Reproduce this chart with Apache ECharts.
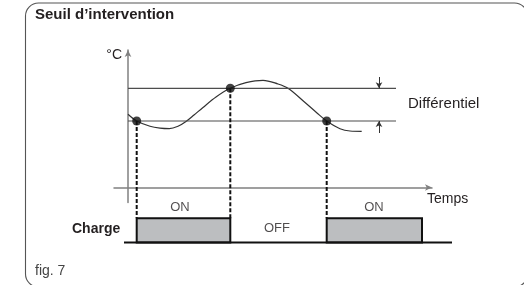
<!DOCTYPE html>
<html>
<head>
<meta charset="utf-8">
<script src="https://cdn.jsdelivr.net/npm/echarts@6/dist/echarts.min.js"></script>
<style>
html, body { margin: 0; padding: 0; background: #fff; }
#main { width: 524px; height: 285px; }
</style>
</head>
<body>
<div id="main"></div>
<script>
// temperature curve (time units, °C units)
var curveTime = [0, 0.87, 2.2, 3.2, 4.13, 5.0, 5.8, 6.6, 7.47, 8.8, 10.23, 11.8, 13.5, 15.0, 16.0, 17.53, 18.87, 19.87, 21.2, 22.2, 23.37];
var curveTemp = [7.32, 6.65, 6.12, 5.93, 5.88, 6.12, 6.6, 7.25, 7.98, 9.05, 9.92, 10.48, 10.72, 10.35, 9.92, 8.65, 7.48, 6.65, 5.88, 5.65, 5.62];
var thresholdHigh = 9.92;
var thresholdLow = 6.65;
var thresholdEnd = 26.8;
var switchTime = [0.87, 10.23, 19.87];
var switchTemp = [6.65, 9.92, 6.65];
var dropTo = -3.08;
var diffArrowTime = 25.1;
var diffArrowFrom = [11.05, 5.45];
var diffArrowTo = [9.92, 6.65];
// charge periods (on from start to end), baseline extent
var chargeOnStart = [0.87, 19.87];
var chargeOnEnd = [10.23, 29.4];
var baselineTime = [-0.4, 32.4];
var stateLabels = ['ON', 'OFF', 'ON'];
var stateLabelTime = [5.2, 14.9, 24.6];
var stateLabelLevel = [1.47, 0.6, 1.47];

var font = 'Liberation Sans, Arial, Helvetica, sans-serif';
var ink = '#231f20';

function zip(a, b) {
    var out = [];
    for (var i = 0; i < a.length; i++) out.push([a[i], b[i]]);
    return out;
}

var dropSeries = [];
for (var i = 0; i < switchTime.length; i++) {
    dropSeries.push({
        type: 'line',
        data: [[switchTime[i], switchTemp[i]], [switchTime[i], dropTo]],
        symbol: 'none',
        clip: false,
        lineStyle: { color: '#111', width: 2, type: [4, 2] },
        z: 3
    });
}

var stateData = [];
for (var i = 0; i < stateLabels.length; i++) {
    stateData.push({ value: [stateLabelTime[i], stateLabelLevel[i]], name: stateLabels[i] });
}

var myChart = echarts.init(document.getElementById('main'));
var option = {
    animation: false,
    title: {
        text: 'Seuil d\u2019intervention',
        left: 35,
        top: 7,
        padding: 0,
        textStyle: { fontFamily: font, fontSize: 15, fontWeight: 'bold', color: ink }
    },
    grid: [
        { left: 114, right: 92, top: 50, bottom: 82.5 },
        { left: 114, right: 70, top: 218.3, bottom: 42.5 }
    ],
    xAxis: [{
        gridIndex: 0,
        type: 'value',
        min: -1.4,
        max: 30.4,
        name: 'Temps',
        nameLocation: 'end',
        nameGap: -5,
        nameTextStyle: { fontFamily: font, fontSize: 14, color: ink, align: 'left', verticalAlign: 'top', padding: [5, 0, 0, 0] },
        axisLine: { onZero: true, symbol: ['none', 'arrow'], symbolSize: [5, 7], lineStyle: { color: '#808080', width: 1.5 } },
        axisTick: { show: false },
        axisLabel: { show: false },
        splitLine: { show: false }
    }, {
        gridIndex: 1,
        type: 'value',
        min: -1.4,
        max: 32.6,
        show: false
    }],
    yAxis: [{
        gridIndex: 0,
        type: 'value',
        min: -1.5,
        max: 13.75,
        name: '\u00b0C',
        nameLocation: 'end',
        nameGap: -5,
        nameTextStyle: { fontFamily: font, fontSize: 14, color: ink, align: 'right', verticalAlign: 'middle', padding: [0, 6, 0, 0] },
        axisLine: { onZero: true, symbol: ['none', 'arrow'], symbolSize: [5, 7], lineStyle: { color: '#808080', width: 1.5 } },
        axisTick: { show: false },
        axisLabel: { show: false },
        splitLine: { show: false }
    }, {
        gridIndex: 1,
        type: 'value',
        min: 0,
        max: 1,
        show: false
    }],
    series: [{
        type: 'line',
        data: [[0, thresholdHigh], [thresholdEnd, thresholdHigh]],
        symbol: 'none',
        lineStyle: { color: '#4d4d4d', width: 1.2 },
        markLine: {
            silent: true,
            symbol: ['none', 'arrow'],
            symbolSize: [5, 6],
            label: { show: false },
            lineStyle: { color: '#333', width: 1, type: 'solid' },
            data: [
                [{ coord: [diffArrowTime, diffArrowFrom[0]] }, { coord: [diffArrowTime, diffArrowTo[0]] }],
                [{ coord: [diffArrowTime, diffArrowFrom[1]] }, { coord: [diffArrowTime, diffArrowTo[1]] }]
            ]
        }
    }, {
        type: 'line',
        data: [[0, thresholdLow], [thresholdEnd, thresholdLow]],
        symbol: 'none',
        lineStyle: { color: '#4d4d4d', width: 1.2 }
    }, {
        type: 'line',
        data: zip(curveTime, curveTemp),
        smooth: 0.35,
        symbol: 'none',
        lineStyle: { color: '#333', width: 1.2 },
        z: 2
    }].concat(dropSeries).concat([{
        type: 'scatter',
        data: zip(switchTime, switchTemp),
        symbolSize: 9,
        itemStyle: { color: '#111' },
        z: 5
    }, {
        type: 'line',
        xAxisIndex: 1,
        yAxisIndex: 1,
        data: [[baselineTime[0], 0], [baselineTime[1], 0]],
        symbol: 'none',
        clip: false,
        lineStyle: { color: '#111', width: 2 },
        z: 4
    }, {
        type: 'custom',
        xAxisIndex: 1,
        yAxisIndex: 1,
        data: zip(chargeOnStart, chargeOnEnd),
        clip: false,
        renderItem: function (params, api) {
            var a = api.coord([api.value(0), 1]);
            var b = api.coord([api.value(1), 0]);
            return {
                type: 'rect',
                shape: { x: a[0], y: a[1], width: b[0] - a[0], height: b[1] - a[1] },
                style: { fill: '#bcbec0', stroke: '#111', lineWidth: 2 }
            };
        },
        z: 4
    }, {
        type: 'scatter',
        xAxisIndex: 1,
        yAxisIndex: 1,
        data: stateData,
        symbolSize: 0,
        clip: false,
        label: {
            show: true,
            position: 'inside',
            formatter: '{b}',
            fontFamily: font,
            fontSize: 13,
            color: ink
        }
    }]),
    graphic: [{
        type: 'rect',
        shape: { x: 25.5, y: 3, width: 502, height: 284, r: 13 },
        style: { fill: 'none', stroke: '#555', lineWidth: 1.1 },
        silent: true
    }, {
        type: 'text',
        left: 72,
        top: 222,
        style: { text: 'Charge', font: 'bold 14px ' + font, fill: ink }
    }, {
        type: 'text',
        left: 408,
        top: 96,
        style: { text: 'Diff\u00e9rentiel', font: '15px ' + font, fill: ink }
    }, {
        type: 'text',
        left: 35,
        top: 264,
        style: { text: 'fig. 7', font: '14px ' + font, fill: '#444' }
    }]
};
myChart.setOption(option);
</script>
</body>
</html>
